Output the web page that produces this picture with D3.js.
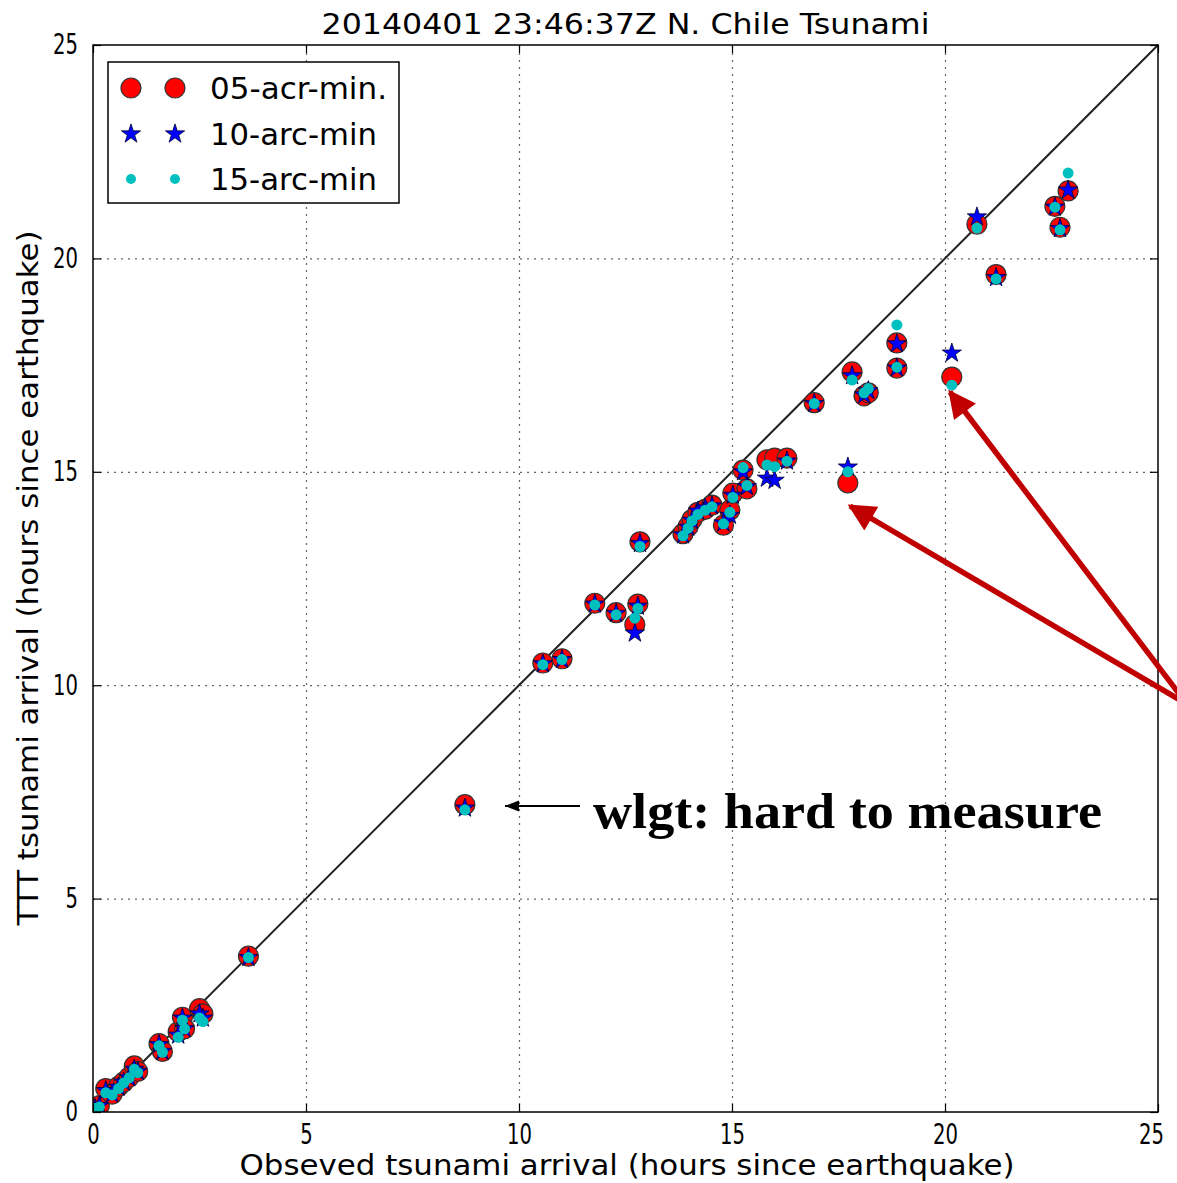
<!DOCTYPE html>
<html>
<head>
<meta charset="utf-8">
<script src="https://cdn.jsdelivr.net/npm/d3@7"></script>
<style>
  body { margin: 0; background: #fff; }
  svg { display: block; }
</style>
</head>
<body>
<div id="chart"></div>
<script>
// observed arrival (hours) and TTT predicted arrival for the three grids
var observed = [0.05, 0.15, 0.3, 0.45, 0.6, 0.72, 0.85, 0.97, 1.05, 1.55, 1.63, 2.0, 2.1, 2.15, 2.5, 2.58, 3.65,
  8.73, 10.56, 11.01, 11.78, 12.28, 12.79, 12.72, 12.84, 13.85, 13.97, 14.06, 14.2, 14.37, 14.53, 14.8, 14.95,
  15.02, 15.26, 15.35, 15.82, 16.0, 16.29, 16.93, 17.72, 17.82, 18.1, 18.2, 18.87, 18.87, 20.16, 20.75, 21.2,
  22.58, 22.7, 22.89];
var ttt05 = [0.08, 0.15, 0.55, 0.42, 0.6, 0.7, 0.82, 1.08, 0.95, 1.6, 1.42, 1.88, 2.22, 1.95, 2.42, 2.3, 3.65,
  7.2, 10.52, 10.62, 11.92, 11.7, 11.9, 11.42, 13.36, 13.55, 13.72, 13.88, 14.05, 14.12, 14.22, 13.75, 14.1,
  14.5, 15.04, 14.6, 15.28, 15.32, 15.32, 16.62, 14.74, 17.34, 16.78, 16.85, 18.02, 17.43, 17.22, 20.8, 19.62,
  21.22, 20.73, 21.58];
var ttt10 = [0.08, 0.15, 0.5, 0.42, 0.58, 0.7, 0.8, 1.0, 0.95, 1.58, 1.42, 1.8, 2.2, 1.95, 2.3, 2.2, 3.62,
  7.12, 10.5, 10.6, 11.9, 11.68, 11.85, 11.22, 13.32, 13.52, 13.7, 13.86, 14.08, 14.15, 14.2, 13.8, 13.98,
  14.45, 15.0, 14.65, 14.85, 14.8, 15.25, 16.6, 15.11, 17.25, 16.8, 16.9, 18.0, 17.43, 17.78, 20.97, 19.55,
  21.2, 20.7, 21.6];
var ttt15 = [0.08, 0.12, 0.45, 0.4, 0.55, 0.68, 0.8, 1.0, 0.92, 1.55, 1.4, 1.75, 2.15, 1.95, 2.2, 2.12, 3.62,
  7.08, 10.48, 10.6, 11.88, 11.65, 11.8, 11.57, 13.25, 13.5, 13.68, 13.85, 14.0, 14.1, 14.18, 13.78, 14.05,
  14.4, 15.1, 14.68, 15.16, 15.12, 15.25, 16.6, 15.0, 17.15, 16.85, 16.95, 18.44, 17.45, 17.03, 20.71, 19.52,
  21.2, 20.67, 22.0];

var tickValues = [0, 5, 10, 15, 20, 25];
var seriesNames = ["05-acr-min.", "10-arc-min", "15-arc-min"];

var width = 1177, height = 1183;
var margin = {left: 93, right: 1158, top: 45, bottom: 1112};

var svg = d3.select("#chart").append("svg")
  .attr("width", width).attr("height", height);

var x = d3.scaleLinear().domain([0, 25]).range([margin.left, margin.right]);
var y = d3.scaleLinear().domain([0, 25]).range([margin.bottom, margin.top]);
var plotW = margin.right - margin.left, plotH = margin.bottom - margin.top;

function fit(sel, w) {
  sel.attr("textLength", w).attr("lengthAdjust", "spacingAndGlyphs");
}

var defs = svg.append("defs");
defs.append("clipPath").attr("id", "plotclip")
  .append("rect").attr("x", margin.left).attr("y", margin.top)
  .attr("width", plotW).attr("height", plotH);

// grid
var gridX = svg.append("g").attr("transform", "translate(0," + margin.bottom + ")")
  .call(d3.axisBottom(x).tickValues([5, 10, 15, 20]).tickSize(-plotH).tickFormat(""));
var gridY = svg.append("g").attr("transform", "translate(" + margin.left + ",0)")
  .call(d3.axisLeft(y).tickValues([5, 10, 15, 20]).tickSize(-plotW).tickFormat(""));
[gridX, gridY].forEach(function(g) {
  g.select(".domain").remove();
  g.selectAll("line").attr("stroke", "#666").attr("stroke-width", 1.2).attr("stroke-dasharray", "2,5");
});

// 1:1 line
svg.append("line")
  .attr("x1", x(0)).attr("y1", y(0)).attr("x2", x(25)).attr("y2", y(25))
  .attr("stroke", "#222").attr("stroke-width", 2);

var plot = svg.append("g").attr("clip-path", "url(#plotclip)");

var star = d3.symbol().type(d3.symbolStar).size(115);

plot.selectAll(".r05").data(observed).enter().append("circle")
  .attr("class", "r05")
  .attr("cx", function(d) { return x(d); })
  .attr("cy", function(d, i) { return y(ttt05[i]); })
  .attr("r", 10)
  .attr("fill", "#ff0000").attr("stroke", "#333").attr("stroke-width", 1.2);

plot.selectAll(".r10").data(observed).enter().append("path")
  .attr("class", "r10")
  .attr("d", star)
  .attr("transform", function(d, i) { return "translate(" + x(d) + "," + y(ttt10[i]) + ")"; })
  .attr("fill", "#0000ff").attr("stroke", "#000033").attr("stroke-width", 0.8);

plot.selectAll(".r15").data(observed).enter().append("circle")
  .attr("class", "r15")
  .attr("cx", function(d) { return x(d); })
  .attr("cy", function(d, i) { return y(ttt15[i]); })
  .attr("r", 5.5)
  .attr("fill", "#00bfbf");

// frame + inward ticks
svg.append("rect").attr("x", margin.left).attr("y", margin.top)
  .attr("width", plotW).attr("height", plotH)
  .attr("fill", "none").attr("stroke", "#000").attr("stroke-width", 1.5);

function styleAxis(g, labels) {
  g.select(".domain").remove();
  g.selectAll("line").attr("stroke", "#000").attr("stroke-width", 1.2);
  if (labels) {
    g.selectAll("text")
      .attr("font-family", "DejaVu Sans").attr("font-size", 28).attr("fill", "#000")
      .each(function(d) { fit(d3.select(this), String(d).length * 12.5); });
  }
}

var axB = svg.append("g").attr("transform", "translate(0," + margin.bottom + ")")
  .call(d3.axisBottom(x).tickValues(tickValues).tickSizeInner(-8).tickSizeOuter(0).tickPadding(12));
styleAxis(axB, true);
// keep the last label inside the picture
axB.selectAll("text").filter(function(d) { return d === 25; }).attr("dx", -7);
var axT = svg.append("g").attr("transform", "translate(0," + margin.top + ")")
  .call(d3.axisTop(x).tickValues(tickValues).tickSizeInner(-8).tickSizeOuter(0).tickFormat(""));
styleAxis(axT, false);
var axL = svg.append("g").attr("transform", "translate(" + margin.left + ",0)")
  .call(d3.axisLeft(y).tickValues(tickValues).tickSizeInner(-8).tickSizeOuter(0).tickPadding(15));
styleAxis(axL, true);
var axR = svg.append("g").attr("transform", "translate(" + margin.right + ",0)")
  .call(d3.axisRight(y).tickValues(tickValues).tickSizeInner(-8).tickSizeOuter(0).tickFormat(""));
styleAxis(axR, false);

// titles
svg.append("text").attr("x", (margin.left + margin.right) / 2).attr("y", 34)
  .attr("text-anchor", "middle").attr("font-family", "DejaVu Sans").attr("font-size", 28)
  .text("20140401 23:46:37Z N. Chile Tsunami").call(fit, 608);

svg.append("text").attr("x", 627).attr("y", 1175)
  .attr("text-anchor", "middle").attr("font-family", "DejaVu Sans").attr("font-size", 28)
  .text("Obseved tsunami arrival (hours since earthquake)").call(fit, 775);

svg.append("text").attr("transform", "translate(38,578) rotate(-90)")
  .attr("text-anchor", "middle").attr("font-family", "DejaVu Sans").attr("font-size", 28)
  .text("TTT tsunami arrival (hours since earthquake)").call(fit, 695);

// legend
var lg = svg.append("g");
lg.append("rect").attr("x", 108).attr("y", 62).attr("width", 291).attr("height", 141)
  .attr("fill", "#fff").attr("stroke", "#000").attr("stroke-width", 1.5);
var legY = [88, 134, 179];
var legW = [177, 167, 167];
[131, 175].forEach(function(mx) {
  lg.append("circle").attr("cx", mx).attr("cy", legY[0]).attr("r", 10)
    .attr("fill", "#ff0000").attr("stroke", "#333").attr("stroke-width", 1.2);
  lg.append("path").attr("d", star).attr("transform", "translate(" + mx + "," + legY[1] + ")")
    .attr("fill", "#0000ff").attr("stroke", "#000033").attr("stroke-width", 0.8);
  lg.append("circle").attr("cx", mx).attr("cy", legY[2]).attr("r", 5)
    .attr("fill", "#00bfbf");
});
seriesNames.forEach(function(name, i) {
  lg.append("text").attr("x", 210).attr("y", legY[i] + 11)
    .attr("font-family", "DejaVu Sans").attr("font-size", 30).attr("fill", "#000")
    .text(name).call(fit, legW[i]);
});

// annotations
defs.append("marker").attr("id", "blackhead").attr("viewBox", "0 0 10 10")
  .attr("refX", 10).attr("refY", 5).attr("markerWidth", 7).attr("markerHeight", 7)
  .attr("markerUnits", "strokeWidth").attr("orient", "auto")
  .append("path").attr("d", "M0,1L10,5L0,9Z").attr("fill", "#000");
defs.append("marker").attr("id", "redhead").attr("viewBox", "0 0 10 10")
  .attr("refX", 9).attr("refY", 5).attr("markerWidth", 6).attr("markerHeight", 5)
  .attr("markerUnits", "strokeWidth").attr("orient", "auto")
  .append("path").attr("d", "M0,0L10,5L0,10Z").attr("fill", "#c00000");

svg.append("line").attr("x1", 580).attr("y1", 806).attr("x2", 505).attr("y2", 806)
  .attr("stroke", "#000").attr("stroke-width", 2).attr("marker-end", "url(#blackhead)");

svg.append("text").attr("x", 593).attr("y", 828)
  .attr("font-family", "Liberation Serif").attr("font-weight", "bold").attr("font-size", 50)
  .attr("fill", "#000").text("wlgt: hard to measure").call(fit, 509);

svg.append("line").attr("x1", 1180).attr("y1", 695).attr("x2", 950).attr("y2", 392)
  .attr("stroke", "#c00000").attr("stroke-width", 5.5).attr("marker-end", "url(#redhead)");
svg.append("line").attr("x1", 1180).attr("y1", 700).attr("x2", 850).attr("y2", 506)
  .attr("stroke", "#c00000").attr("stroke-width", 5.5).attr("marker-end", "url(#redhead)");
</script>
</body>
</html>
